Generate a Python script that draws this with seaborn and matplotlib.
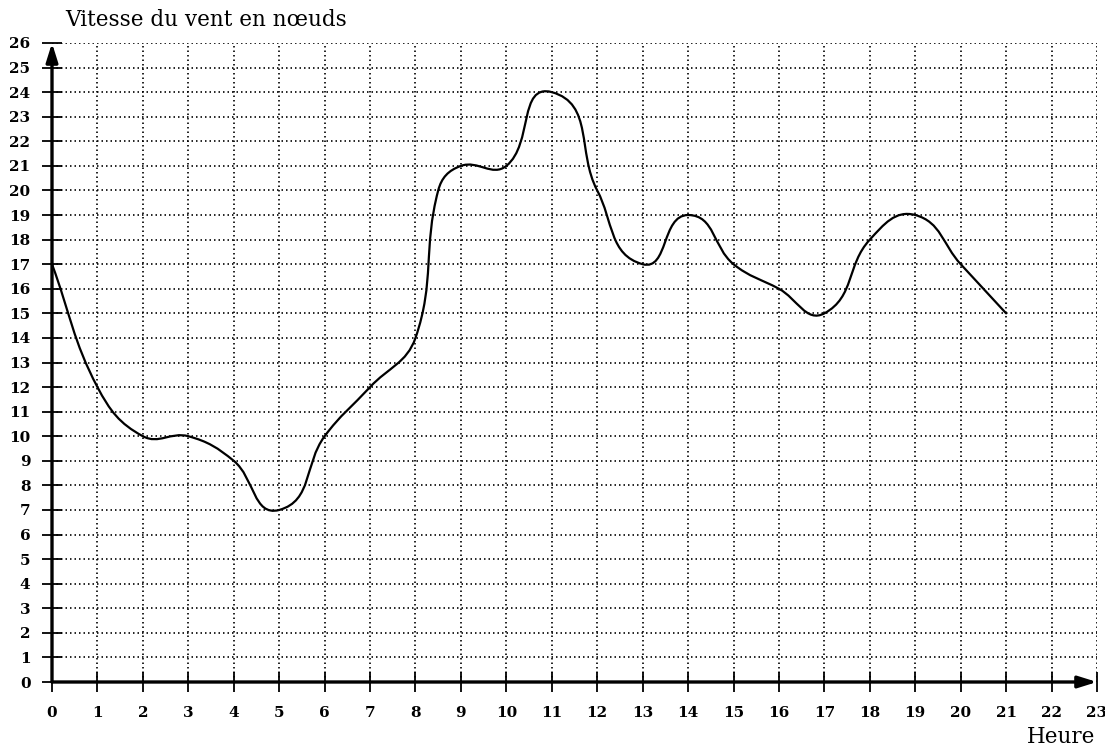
import numpy as np
import matplotlib
matplotlib.use("Agg")
import matplotlib.pyplot as plt
from matplotlib.path import Path
from matplotlib.patches import PathPatch
import seaborn as sns

# points (hour, wind speed in knots)
heures = [0, 1, 2, 3, 4, 5, 6, 7, 8, 8.5, 9, 10, 11, 12, 13, 14, 15, 16, 17, 18, 19, 20, 21]
vitesse = [17, 12, 10, 10, 9, 7, 10, 12, 14, 20, 21, 21, 24, 20, 17, 19, 17, 16, 15, 18, 19, 17, 15]

x_ticks = list(range(0, 24))
y_ticks = list(range(0, 27))

sns.set_style("white")
plt.rcParams['font.family'] = ['DejaVu Serif']
plt.rcParams['text.color'] = 'black'

fig = plt.figure(figsize=(11.05, 7.51), dpi=100)
ax = fig.add_axes([52 / 1105, 69 / 751, 1045 / 1105, 639 / 751])


def smooth_path(xs, ys, a=0.4, sx=45.4, sy=24.6):
    # bezier segments through the points; tangent along the neighbours,
    # handle length a fraction of the chord (worked out in screen-like units)
    pts = np.column_stack([np.asarray(xs, float) * sx, np.asarray(ys, float) * sy])
    n = len(pts)
    tang = np.zeros_like(pts)
    tang[0] = pts[1] - pts[0]
    tang[-1] = pts[-1] - pts[-2]
    tang[1:-1] = pts[2:] - pts[:-2]
    tang /= np.linalg.norm(tang, axis=1)[:, None]
    verts = [pts[0]]
    codes = [Path.MOVETO]
    for i in range(n - 1):
        d = np.linalg.norm(pts[i + 1] - pts[i])
        c1 = pts[i] + a * d * tang[i]
        c2 = pts[i + 1] - a * d * tang[i + 1]
        verts += [c1, c2, pts[i + 1]]
        codes += [Path.CURVE4] * 3
    verts = np.array(verts) / [sx, sy]
    return Path(verts, codes)


# grid
dots = (0, (0.9, 1.8))
for xv in x_ticks[1:]:
    ax.axvline(xv, color='black', lw=1.2, ls=dots, zorder=1)
for yv in y_ticks[1:]:
    ax.axhline(yv, color='black', lw=1.2, ls=dots, zorder=1)

ax.add_patch(PathPatch(smooth_path(heures, vitesse), fill=False, lw=1.6,
                       edgecolor='black', zorder=3, capstyle='round'))

# axes arrows
arrow = dict(arrowstyle='-|>,head_length=0.8,head_width=0.25', lw=2.4,
             color='black', shrinkA=0, shrinkB=0, mutation_scale=14)
ax.annotate('', xy=(23, 0), xytext=(0, 0), arrowprops=arrow, zorder=4)
ax.annotate('', xy=(0, 26), xytext=(0, 0), arrowprops=arrow, zorder=4)

ax.set_xlim(0, 23)
ax.set_ylim(0, 26)
ax.set_xticks(x_ticks)
ax.set_yticks(y_ticks)
ax.set_xticklabels([str(v) for v in x_ticks], fontweight='bold', fontsize=11)
ax.set_yticklabels([str(v) for v in y_ticks], fontweight='bold', fontsize=11)
ax.tick_params(axis='both', direction='inout', length=15, width=1.3,
               color='black', labelcolor='black', bottom=True, left=True)
ax.tick_params(axis='x', pad=10)
ax.tick_params(axis='y', pad=8)
for s in ax.spines.values():
    s.set_visible(False)

fig.text(65 / 1105, 1 - 20 / 751, 'Vitesse du vent en nœuds', ha='left',
         va='center', fontsize=15.5, color='black')
fig.text(1095 / 1105, 1 - 737 / 751, 'Heure', ha='right', va='center',
         fontsize=15.5, color='black')

fig.savefig('out.png', dpi=100)
